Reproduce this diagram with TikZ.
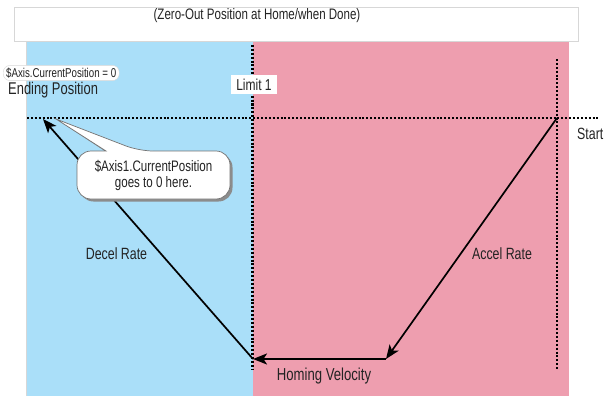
\documentclass[tikz,border=0pt]{standalone}
\usepackage{fontspec}
\setmainfont{Liberation Sans}[FakeStretch=0.76]
\usetikzlibrary{arrows.meta}
\definecolor{bluebg}{RGB}{170,223,249}
\definecolor{pinkbg}{RGB}{238,158,175}
\definecolor{txt}{RGB}{35,35,35}
\definecolor{boxline}{RGB}{215,215,215}
\tikzset{
  lbl/.style={text=txt, inner sep=0pt, font=\fontsize{16.3}{18}\selectfont},
  dotline/.style={line width=2.4pt, dash pattern=on 2pt off 1.9pt, black},
  movearrow/.style={line width=1.7pt, -{Stealth[length=14pt,width=11pt,inset=3.5pt]}},
}
\begin{document}
\begin{tikzpicture}[x=1pt,y=-1pt]
\useasboundingbox (0,0) rectangle (605,396);
% backgrounds
\fill[bluebg] (27,41) rectangle (253,396);
\fill[pinkbg] (253,41) rectangle (569,396);
\draw[boxline, line width=0.6pt] (26.5,41) -- (26.5,396);
\draw[fill=white, draw=boxline, line width=0.8pt] (14,7) rectangle (578,41);
\node[lbl, font=\fontsize{15.2}{17}\selectfont] (title) at (257,16) {(Zero-Out Position at Home/when Done)};
% dotted lines
\coordinate (hl) at (27,118);
\coordinate (hr) at (598,118);
\coordinate (v1t) at (252.5,45);
\coordinate (v1b) at (252.5,369);
\coordinate (v2t) at (557,59);
\coordinate (v2b) at (557,370);
\draw[dotline] (hl) -- (hr);
\draw[dotline] (v1t) -- (v1b);
\draw[dotline] (v2t) -- (v2b);
% limit label
\node[lbl, fill=white, inner xsep=5pt, inner ysep=4pt, font=\fontsize{15.8}{17}\selectfont] (limit) at (254,84.5) {Limit 1};
% motion path
\coordinate (start) at (557,118);
\coordinate (low) at (386,359);
\coordinate (home) at (253,359);
\coordinate (endp) at (43,119);
\draw[movearrow] (start) -- (low);
\draw[movearrow] (low) -- (home);
\draw[movearrow] (home) -- (endp);
% labels
\node[lbl] (decel) at (116.5,254) {Decel Rate};
\node[lbl] (accel) at (502,254) {Accel Rate};
\node[lbl, font=\fontsize{17.3}{19}\selectfont] (homing) at (324,376) {Homing Velocity};
\node[lbl, anchor=west] (startlbl) at (577,134) {Start};
% ending position
\node[lbl, fill=white, draw=boxline, rounded corners=7pt, inner xsep=3pt, inner ysep=2.5pt, font=\fontsize{12.8}{14}\selectfont, anchor=west] (axis0) at (3,73) {\$Axis.CurrentPosition = 0};
\node[lbl, anchor=base west, font=\fontsize{17}{19}\selectfont] (ending) at (8,94) {Ending Position};
% callout
\coordinate (tip) at (56,119);
\fill[black!45, shift={(2.5,2.5)}] (tip) -- (106,151) [rounded corners=14pt] -- (77,151) -- (77,199) -- (230,199) -- (230,151) -- (139,151) [sharp corners] -- cycle;
\draw[fill=white, draw=black!55, line width=0.7pt] (tip) -- (106,151) [rounded corners=14pt] -- (77,151) -- (77,199) -- (230,199) -- (230,151) -- (139,151) [sharp corners] -- cycle;
\node[lbl, align=center, font=\fontsize{15.2}{16}\selectfont] (callout) at (153.5,175) {\$Axis1.CurrentPosition\\goes to 0 here.};
\end{tikzpicture}
\end{document}
